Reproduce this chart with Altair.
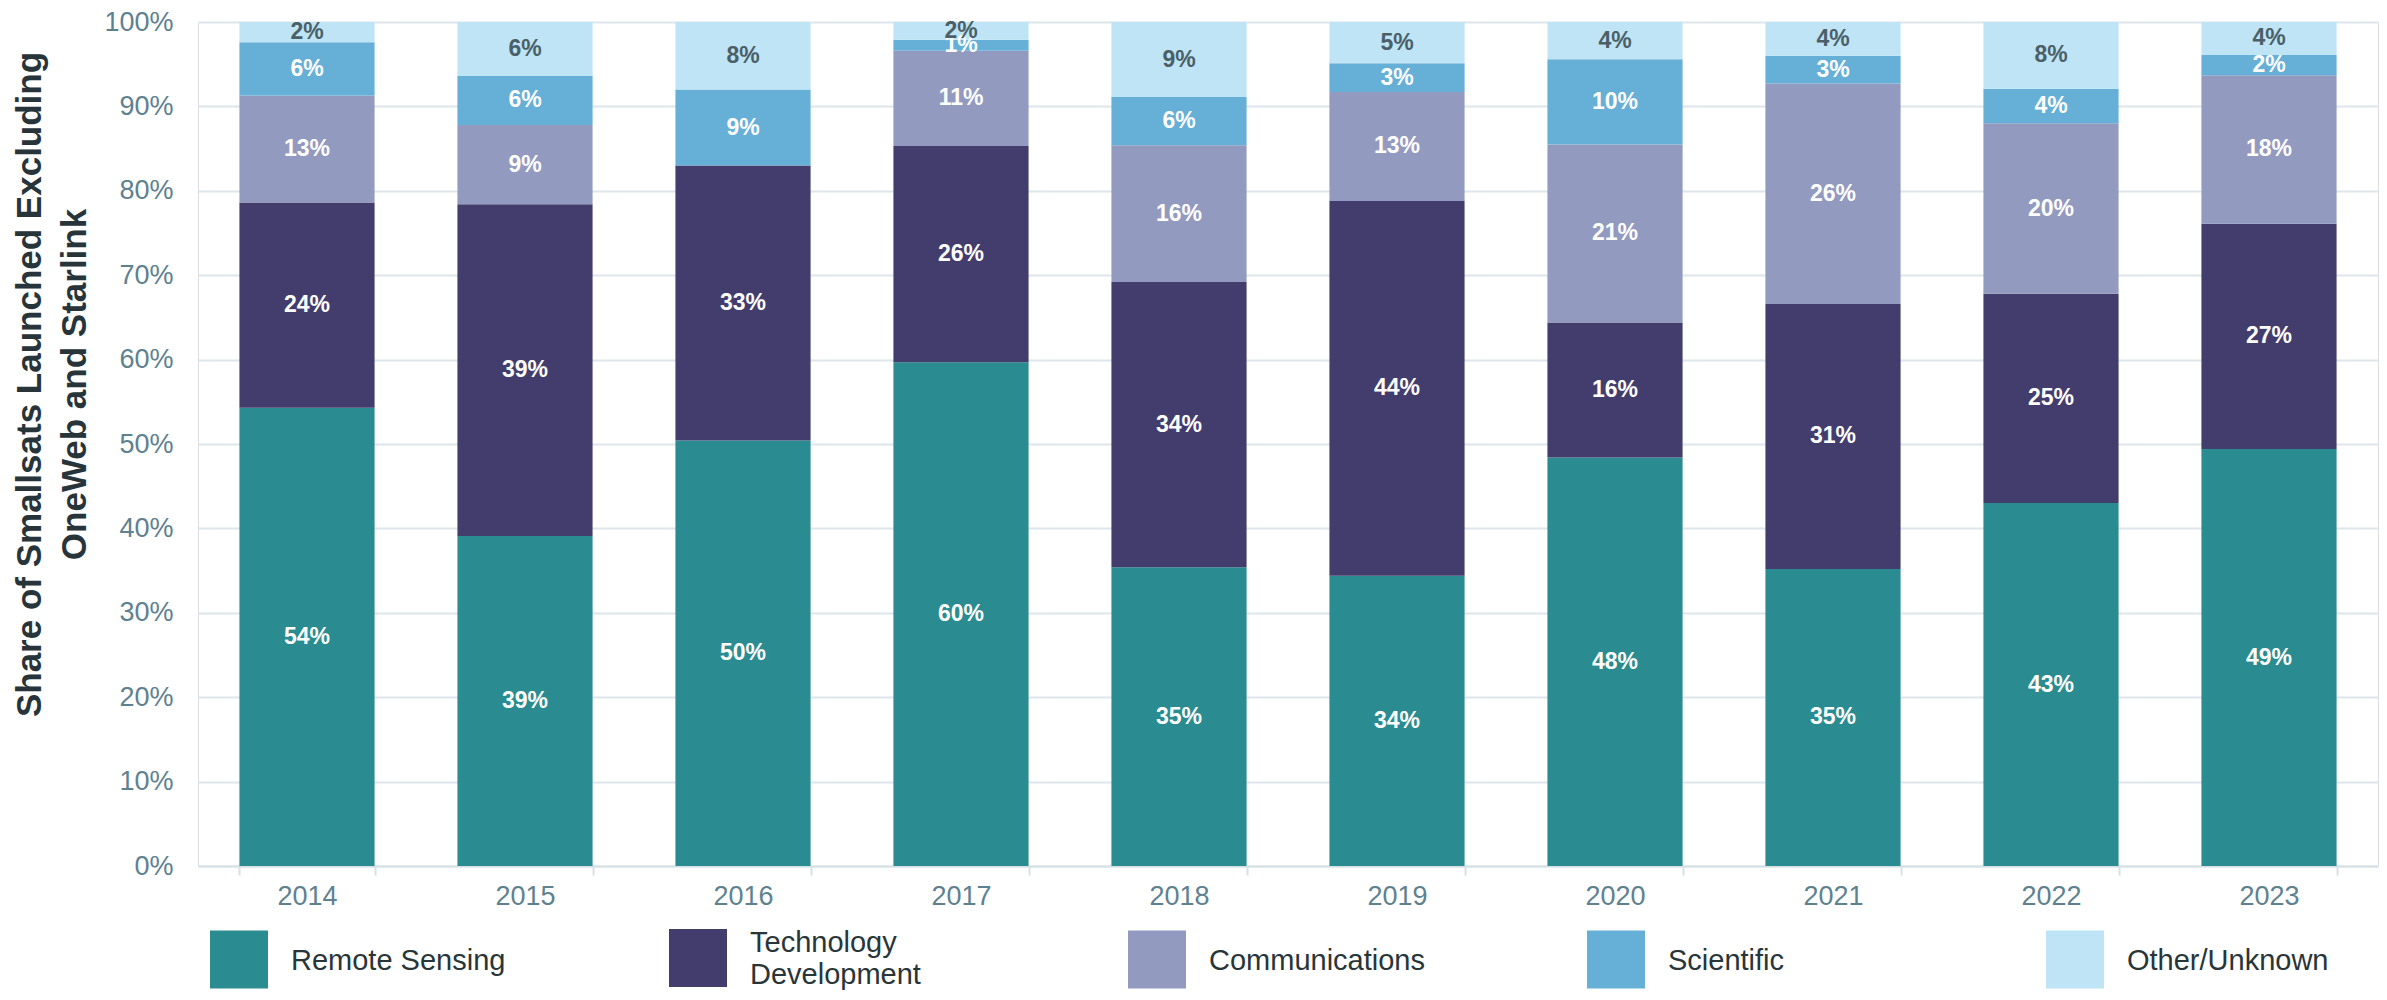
import altair as alt
import pandas as pd

years = ["2014", "2015", "2016", "2017", "2018", "2019", "2020", "2021", "2022", "2023"]
categories = ["Remote Sensing", "Technology Development", "Communications", "Scientific", "Other/Unknown"]
colors = ["#2a8c90", "#433d6e", "#939ac0", "#66afd7", "#bee4f5"]

remote_sensing = [54.3, 39.1, 50.4, 59.7, 35.4, 34.4, 48.4, 35.2, 43.0, 49.4]
technology_dev = [24.3, 39.3, 32.6, 25.6, 33.8, 44.4, 16.0, 31.4, 24.8, 26.7]
communications = [12.7, 9.4, 0.0, 11.3, 16.2, 12.9, 21.1, 26.1, 20.2, 17.6]
scientific = [6.3, 5.8, 9.0, 1.3, 5.7, 3.4, 10.1, 3.3, 4.1, 2.4]
other_unknown = [2.4, 6.4, 8.0, 2.1, 8.9, 4.9, 4.4, 4.0, 7.9, 3.9]

series = [remote_sensing, technology_dev, communications, scientific, other_unknown]
rows = []
for ci, (cat, vals) in enumerate(zip(categories, series)):
    for y, v in zip(years, vals):
        rows.append({"year": y, "category": cat, "value": v, "order": ci})
df = pd.DataFrame(rows)

FONT = "Liberation Sans"
SPACER = "\u200b"  # zero-width spacer line used to centre the two-line legend label

base = (
    alt.Chart(df)
    .transform_filter("datum.value > 0")
    .transform_stack(
        stack="value",
        groupby=["year"],
        as_=["v0", "v1"],
        sort=[alt.SortField("order", order="ascending")],
    )
    .transform_calculate(mid="(datum.v0 + datum.v1) / 2",
                         label="format(datum.value, '.0f') + '%'")
)

x_enc = alt.X(
    "year:N",
    sort=years,
    title=None,
    scale=alt.Scale(paddingInner=0.38, paddingOuter=0.19),
    axis=alt.Axis(
        labelAngle=0,
        domainColor="#d6e1e5",
        domainWidth=2,
        tickColor="#d6e1e5",
        tickWidth=2,
        tickSize=9,
        tickBand="extent",
        labelFontSize=27,
        labelFont=FONT,
        labelColor="#5e8190",
        labelPadding=8,
        grid=False,
    ),
)

bars = base.mark_bar().encode(
    x=x_enc,
    y=alt.Y(
        "v0:Q",
        scale=alt.Scale(domain=[0, 100], nice=False),
        title=["Share of Smallsats Launched Excluding", "OneWeb and Starlink"],
        axis=alt.Axis(
            values=[0, 10, 20, 30, 40, 50, 60, 70, 80, 90, 100],
            labelExpr="datum.value + '%'",
            domain=False,
            ticks=False,
            gridColor="#dde6ea",
            gridWidth=2,
            labelPadding=25,
            labelFontSize=27,
            labelFont=FONT,
            labelColor="#5e8190",
            titleFont=FONT,
            titleFontSize=35,
            titleFontWeight="bold",
            titleColor="#27353b",
            titleLineHeight=45,
            titleAngle=270,
            titleBaseline="alphabetic",
            titleAlign="center",
            titleX=-158,
            titleY=362,
        ),
    ),
    y2="v1:Q",
    color=alt.Color(
        "category:N",
        scale=alt.Scale(domain=categories, range=colors),
        legend=alt.Legend(
            title=None,
            orient="none",
            legendX=12,
            legendY=907,
            direction="horizontal",
            columns=5,
            gridAlign="all",
            columnPadding=162,
            symbolType="square",
            symbolSize=3364,
            symbolStrokeWidth=0,
            symbolOpacity=1,
            labelFontSize=29,
            labelFont=FONT,
            labelColor="#283539",
            labelOffset=23,
            labelLimit=500,
            labelBaseline="bottom",
            labelExpr=(
                "datum.label == 'Technology Development' ? ['Technology', '" + SPACER
                + "', 'Development'] : ['" + SPACER + "', datum.label]"
            ),
            padding=0,
        ),
    ),
    order=alt.Order("order:Q", sort="ascending"),
)

text = base.mark_text(
    font=FONT, fontSize=23, fontWeight="bold", baseline="middle", align="center"
).encode(
    x=alt.X("year:N", sort=years),
    y=alt.Y("mid:Q"),
    text="label:N",
    color=alt.condition(
        alt.datum.category == "Other/Unknown", alt.value("#4b5f68"), alt.value("#ffffff")
    ),
)

chart = (
    alt.layer(bars, text)
    .properties(
        width=2180,
        height=844,
        autosize=alt.AutoSizeParams(type="none"),
        padding={"left": 190, "top": 14, "right": 1, "bottom": 126},
    )
    .configure_view(stroke=None)
    .configure(style={"guide-label": {"lineHeight": 16}})
)

chart.save("out.html", embed_options={"renderer": "svg", "actions": False})
